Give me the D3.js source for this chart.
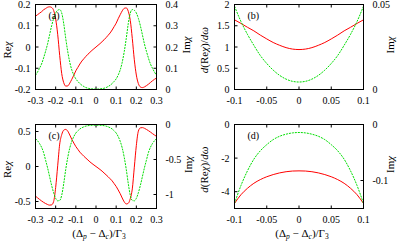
<!DOCTYPE html>
<html>
<head>
<meta charset="utf-8">
<script src="https://cdn.jsdelivr.net/npm/d3@7"></script>
<style>
  body { margin: 0; background: #fff; }
  text { font-family: "Liberation Serif", "Times New Roman", serif; font-size: 10px; fill: #000; }
  text.axlabel { font-size: 11px; }
</style>
</head>
<body>
<svg id="svg1" width="399" height="241"></svg>
<script>
// x grids
var xWide = d3.range(-30, 31).map(function(i){ return i / 100; });   // -0.3 .. 0.3
var xNarrow = d3.range(-10, 11).map(function(i){ return i / 100; });  // -0.1 .. 0.1

// panel (a): Re chi (left) / Im chi (right)
var reA = [0.145,0.152,0.159,0.166,0.175,0.181,0.187,0.189,0.186,0.172,0.132,0.060,-0.040,-0.125,-0.168,-0.184,-0.183,-0.170,-0.152,-0.133,-0.112,-0.096,-0.080,-0.066,-0.055,-0.044,-0.034,-0.025,-0.016,-0.008,0,
           0.008,0.016,0.025,0.034,0.044,0.055,0.066,0.080,0.096,0.112,0.133,0.152,0.170,0.182,0.184,0.168,0.125,0.040,-0.060,-0.132,-0.172,-0.188,-0.191,-0.188,-0.182,-0.175,-0.167,-0.159,-0.152,-0.146];
var imA = [0.067,0.082,0.100,0.120,0.148,0.180,0.215,0.258,0.300,0.335,0.360,0.373,0.376,0.360,0.310,0.240,0.178,0.128,0.092,0.068,0.050,0.038,0.028,0.020,0.014,0.009,0.006,0.004,0.003,0.002,0.002,
           0.002,0.003,0.004,0.006,0.009,0.014,0.020,0.028,0.038,0.050,0.068,0.092,0.128,0.178,0.240,0.310,0.360,0.376,0.373,0.360,0.335,0.300,0.258,0.215,0.180,0.148,0.120,0.100,0.082,0.067];

// panel (b): d(Re chi)/d omega (left) / Im chi (right)
var reB = [1.64,1.555,1.465,1.38,1.28,1.19,1.106,1.04,0.985,0.951,0.94,0.951,0.985,1.04,1.106,1.19,1.28,1.38,1.465,1.555,1.64];
var imB = [0.049,0.040,0.0325,0.026,0.020,0.0153,0.0114,0.0083,0.0061,0.0048,0.0044,0.0048,0.0061,0.0083,0.0114,0.0153,0.020,0.026,0.0325,0.040,0.049];

// panel (c)
var reC = [-0.424,-0.447,-0.470,-0.492,-0.512,-0.529,-0.543,-0.552,-0.548,-0.500,-0.300,0.010,0.320,0.455,0.519,0.530,0.505,0.450,0.388,0.335,0.285,0.245,0.205,0.175,0.146,0.119,0.093,0.066,0.043,0.021,0,
           -0.021,-0.043,-0.066,-0.093,-0.119,-0.146,-0.175,-0.205,-0.245,-0.285,-0.335,-0.388,-0.450,-0.505,-0.535,-0.525,-0.460,-0.320,-0.010,0.300,0.505,0.552,0.556,0.546,0.530,0.512,0.492,0.470,0.450,0.430];
var imC = [-0.200,-0.232,-0.272,-0.325,-0.400,-0.510,-0.620,-0.745,-0.870,-0.975,-1.055,-1.090,-1.085,-1.010,-0.843,-0.640,-0.470,-0.335,-0.240,-0.172,-0.122,-0.090,-0.064,-0.046,-0.033,-0.023,-0.017,-0.013,-0.011,-0.010,-0.010,
           -0.010,-0.011,-0.013,-0.017,-0.023,-0.033,-0.046,-0.064,-0.090,-0.122,-0.172,-0.240,-0.335,-0.470,-0.640,-0.843,-1.010,-1.085,-1.090,-1.055,-0.975,-0.870,-0.745,-0.620,-0.510,-0.400,-0.325,-0.272,-0.232,-0.200];

// panel (d)
var reD = [-4.70,-4.18,-3.80,-3.50,-3.28,-3.11,-2.98,-2.88,-2.81,-2.77,-2.76,-2.77,-2.81,-2.88,-2.98,-3.11,-3.28,-3.50,-3.80,-4.18,-4.70];
var imD = [-0.141,-0.109,-0.083,-0.062,-0.047,-0.036,-0.027,-0.021,-0.0173,-0.015,-0.0143,-0.015,-0.0173,-0.021,-0.027,-0.036,-0.047,-0.062,-0.083,-0.109,-0.141];

// tick values and labels
var ticksWide = [-0.3,-0.2,-0.1,0,0.1,0.2,0.3];
var ticksWideLabels = ["-0.3","-0.2","-0.1","0","0.1","0.2","0.3"];
var ticksNarrow = [-0.1,-0.05,0,0.05,0.1];
var ticksNarrowLabels = ["-0.1","-0.05","0","0.05","0.1"];

var yTicksA = [-0.2,-0.1,0,0.1,0.2], yLabelsA = ["-0.2","-0.1","0","0.1","0.2"];
var y2TicksA = [0,0.1,0.2,0.3,0.4], y2LabelsA = ["0","0.1","0.2","0.3","0.4"];
var yTicksB = [0,0.5,1,1.5,2], yLabelsB = ["0","0.5","1","1.5","2"];
var y2TicksB = [0,0.05], y2LabelsB = ["0","0.05"];
var yTicksC = [-0.5,0,0.5], yLabelsC = ["-0.5","0","0.5"];
var y2TicksC = [-1,-0.5,0], y2LabelsC = ["-1","-0.5","0"];
var yTicksD = [-4,-2,0], yLabelsD = ["-4","-2","0"];
var y2TicksD = [-0.1,0], y2LabelsD = ["-0.1","0"];

var svg = d3.select('#svg1');
var defs = svg.append('defs');
var clipId = 0;

function richText(sel, parts){
    parts.forEach(function(p){
        var t = sel.append('tspan').text(p.t);
        if (p.i) t.attr('font-style', 'italic');
        if (p.sub) t.attr('font-size', '7.5px').attr('baseline-shift', '-25%');
    });
}

var reLabel = [{t:'Re'},{t:'χ', i:true}];
var imLabel = [{t:'Im'},{t:'χ', i:true}];
var derivLabel = [{t:'d', i:true},{t:'(Re'},{t:'χ', i:true},{t:')/'},{t:'d', i:true},{t:'ω', i:true}];
var xLabel = [{t:'(Δ'},{t:'p', i:true, sub:true},{t:' − Δ'},{t:'c', i:true, sub:true},{t:')/Γ'},{t:'3', sub:true}];

function panel(p){
    var x = d3.scaleLinear().domain(p.xDomain).range([p.left, p.right]);
    var y = d3.scaleLinear().domain(p.yDomain).range([p.bottom, p.top]);
    var y2 = d3.scaleLinear().domain(p.y2Domain).range([p.bottom, p.top]);
    var g = svg.append('g');
    var tl = 3;

    // x ticks, bottom and top
    p.xTicks.forEach(function(v, i){
        g.append('line').attr('x1', x(v)).attr('x2', x(v)).attr('y1', p.bottom).attr('y2', p.bottom - tl).attr('stroke', '#000');
        g.append('line').attr('x1', x(v)).attr('x2', x(v)).attr('y1', p.top).attr('y2', p.top + tl).attr('stroke', '#000');
        g.append('text').attr('x', x(v)).attr('y', p.bottom + 14).attr('text-anchor', 'middle').text(p.xLabels[i]);
    });
    p.yTicks.forEach(function(v, i){
        g.append('line').attr('x1', p.left).attr('x2', p.left + tl).attr('y1', y(v)).attr('y2', y(v)).attr('stroke', '#000');
        g.append('text').attr('x', p.left - 5).attr('y', y(v) + 3.5).attr('text-anchor', 'end').text(p.yLabels[i]);
    });
    p.y2Ticks.forEach(function(v, i){
        g.append('line').attr('x1', p.right).attr('x2', p.right - tl).attr('y1', y2(v)).attr('y2', y2(v)).attr('stroke', '#000');
        g.append('text').attr('x', p.right + 9).attr('y', y2(v) + 3.5).attr('text-anchor', 'start').text(p.y2Labels[i]);
    });

    var id = 'clip' + (clipId++);
    defs.append('clipPath').attr('id', id).append('rect')
        .attr('x', p.left).attr('y', p.top).attr('width', p.right - p.left).attr('height', p.bottom - p.top);

    var lineRe = d3.line().x(function(d, i){ return x(p.xs[i]); }).y(function(d){ return y(d); }).curve(d3.curveMonotoneX);
    var lineIm = d3.line().x(function(d, i){ return x(p.xs[i]); }).y(function(d){ return y2(d); }).curve(d3.curveMonotoneX);

    g.append('path').datum(p.re).attr('d', lineRe).attr('clip-path', 'url(#' + id + ')')
        .attr('fill', 'none').attr('stroke', '#ff0000').attr('stroke-width', 1);
    g.append('path').datum(p.im).attr('d', lineIm).attr('clip-path', 'url(#' + id + ')')
        .attr('fill', 'none').attr('stroke', '#00dd00').attr('stroke-width', 1).attr('stroke-dasharray', '2,1');

    g.append('rect').attr('x', p.left).attr('y', p.top).attr('width', p.right - p.left).attr('height', p.bottom - p.top)
        .attr('fill', 'none').attr('stroke', '#000').attr('stroke-width', 1);

    g.append('text').attr('x', p.left + 13).attr('y', p.top + 14).text(p.tag);

    var mid = (p.top + p.bottom) / 2;
    richText(g.append('text').attr('class', 'axlabel').attr('text-anchor', 'middle')
        .attr('transform', 'translate(' + p.yLabelX + ',' + (mid + 3) + ') rotate(-90)'), p.yLabel);
    richText(g.append('text').attr('class', 'axlabel').attr('text-anchor', 'middle')
        .attr('transform', 'translate(' + p.y2LabelX + ',' + (mid - 2) + ') rotate(-90)'), imLabel);

    if (p.showXLabel) {
        richText(g.append('text').attr('class', 'axlabel').attr('text-anchor', 'middle')
            .attr('x', (p.left + p.right) / 2 + 3).attr('y', p.bottom + 28), xLabel);
    }
}

panel({left:35.5, right:156.5, top:4.5, bottom:89.5, xDomain:[-0.3,0.3], yDomain:[-0.2,0.2], y2Domain:[0,0.4],
       xTicks:ticksWide, xLabels:ticksWideLabels, yTicks:yTicksA, yLabels:yLabelsA, y2Ticks:y2TicksA, y2Labels:y2LabelsA,
       xs:xWide, re:reA, im:imA, tag:'(a)', yLabel:reLabel, yLabelX:11, y2LabelX:190, showXLabel:false});
panel({left:234.5, right:363.5, top:4.5, bottom:89.5, xDomain:[-0.1,0.1], yDomain:[0,2], y2Domain:[0,0.05],
       xTicks:ticksNarrow, xLabels:ticksNarrowLabels, yTicks:yTicksB, yLabels:yLabelsB, y2Ticks:y2TicksB, y2Labels:y2LabelsB,
       xs:xNarrow, re:reB, im:imB, tag:'(b)', yLabel:derivLabel, yLabelX:208, y2LabelX:394, showXLabel:false});
panel({left:35.5, right:156.5, top:124.5, bottom:208.5, xDomain:[-0.3,0.3], yDomain:[-0.6,0.6], y2Domain:[-1.2,0],
       xTicks:ticksWide, xLabels:ticksWideLabels, yTicks:yTicksC, yLabels:yLabelsC, y2Ticks:y2TicksC, y2Labels:y2LabelsC,
       xs:xWide, re:reC, im:imC, tag:'(c)', yLabel:reLabel, yLabelX:11, y2LabelX:192, showXLabel:true});
panel({left:234.5, right:363.5, top:124.5, bottom:208.5, xDomain:[-0.1,0.1], yDomain:[-5,0], y2Domain:[-0.15,0],
       xTicks:ticksNarrow, xLabels:ticksNarrowLabels, yTicks:yTicksD, yLabels:yLabelsD, y2Ticks:y2TicksD, y2Labels:y2LabelsD,
       xs:xNarrow, re:reD, im:imD, tag:'(d)', yLabel:derivLabel, yLabelX:208, y2LabelX:394, showXLabel:true});
</script>
</body>
</html>
